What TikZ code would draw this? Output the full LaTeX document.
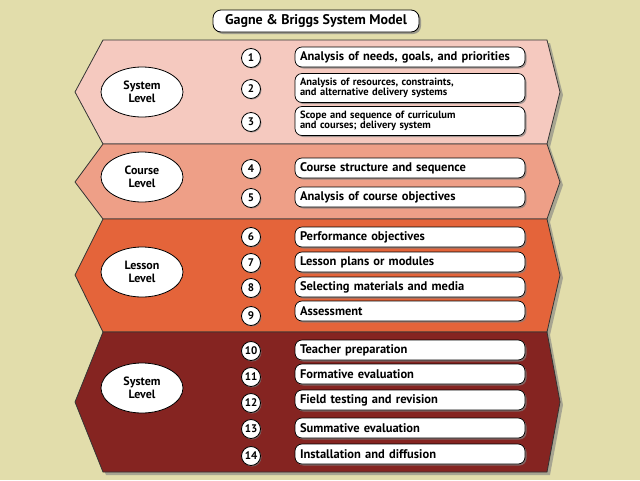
\documentclass[tikz,border=0pt]{standalone}
\usepackage{fontspec}
\setmainfont{PT Sans}
\usetikzlibrary{shadows}
\definecolor{bg}{HTML}{E2DDAB}
\definecolor{bA}{HTML}{F5C9BF}
\definecolor{bB}{HTML}{EE9F87}
\definecolor{bC}{HTML}{E4643A}
\definecolor{bD}{HTML}{852421}
\tikzset{
  band/.style={draw=black!80, line width=0.8pt, drop shadow={shadow xshift=3pt,shadow yshift=-3pt,opacity=0.6}},
  item/.style={draw=black, line width=0.7pt, fill=white, rounded corners=7pt, minimum width=230pt, text width=220pt, align=left, minimum height=20pt, font=\bfseries\fontsize{12.5}{12.5}\selectfont, inner sep=2pt, drop shadow={shadow xshift=1.5pt,shadow yshift=-1.5pt,opacity=0.7}},
  item2/.style={item, font=\bfseries\fontsize{10.5}{10.5}\selectfont, minimum height=29pt},
  num/.style={circle, draw=black, line width=0.8pt, fill=white, minimum size=19pt, inner sep=0pt, font=\bfseries\fontsize{11}{11}\selectfont, drop shadow={shadow xshift=1pt,shadow yshift=-1pt,opacity=0.7}},
  lvl/.style={ellipse, draw=black, line width=0.8pt, fill=white, minimum width=82pt, minimum height=50pt, inner sep=0pt, align=center, font=\bfseries\fontsize{12}{13.5}\selectfont},
}
\usetikzlibrary{shapes.geometric}
\begin{document}
\begin{tikzpicture}[x=1pt,y=-1pt]
\fill[bg] (0,0) rectangle (640,480);
\useasboundingbox (0,0) rectangle (640,480);
\filldraw[band, fill=bA] (103,40) -- (547,40) -- (560,92) -- (547,144) -- (103,144) -- (75,92) -- cycle;
\filldraw[band, fill=bB] (103,144) -- (547,144) -- (560,182) -- (547,219) -- (103,219) -- (75,182) -- cycle;
\filldraw[band, fill=bC] (103,219) -- (547,219) -- (560,275) -- (547,332) -- (103,332) -- (75,275) -- cycle;
\filldraw[band, fill=bD] (103,332) -- (547,332) -- (560,402) -- (547,472) -- (103,472) -- (75,402) -- cycle;
\node[draw=black, line width=0.8pt, fill=white, rounded corners=8pt, minimum width=206pt, minimum height=22pt, font=\bfseries\fontsize{14}{14}\selectfont, drop shadow={shadow xshift=2pt,shadow yshift=-2pt,opacity=0.7}] (title) at (316,21) {Gagne \& Briggs System Model};
\node[lvl] (l1) at (142,92) {System\\Level};
\node[lvl] (l2) at (142,177) {Course\\Level};
\node[lvl] (l3) at (142,272) {Lesson\\Level};
\node[lvl] (l4) at (142,388) {System\\Level};
\foreach \n/\y in {1/58,2/89,3/122,4/169,5/198,6/237,7/263,8/288,9/316,10/351,11/377,12/403,13/429,14/456}
  \node[num] (n\n) at (251,\y) {\n};
\node[item] (i1) at (410,57) {Analysis of needs, goals, and priorities};
\node[item2] (i2) at (410,88) {Analysis of resources, constraints,\\and alternative delivery systems};
\node[item2] (i3) at (410,121) {Scope and sequence of curriculum\\and courses; delivery system};
\node[item] (i4) at (410,168) {Course structure and sequence};
\node[item] (i5) at (410,197) {Analysis of course objectives};
\node[item] (i6) at (410,237) {Performance objectives};
\node[item] (i7) at (410,262) {Lesson plans or modules};
\node[item] (i8) at (410,287) {Selecting materials and media};
\node[item] (i9) at (410,311) {Assessment};
\node[item] (i10) at (410,350) {Teacher preparation};
\node[item] (i11) at (410,374) {Formative evaluation};
\node[item] (i12) at (410,400) {Field testing and revision};
\node[item] (i13) at (410,428) {Summative evaluation};
\node[item] (i14) at (410,454) {Installation and diffusion};
\end{tikzpicture}
\end{document}
